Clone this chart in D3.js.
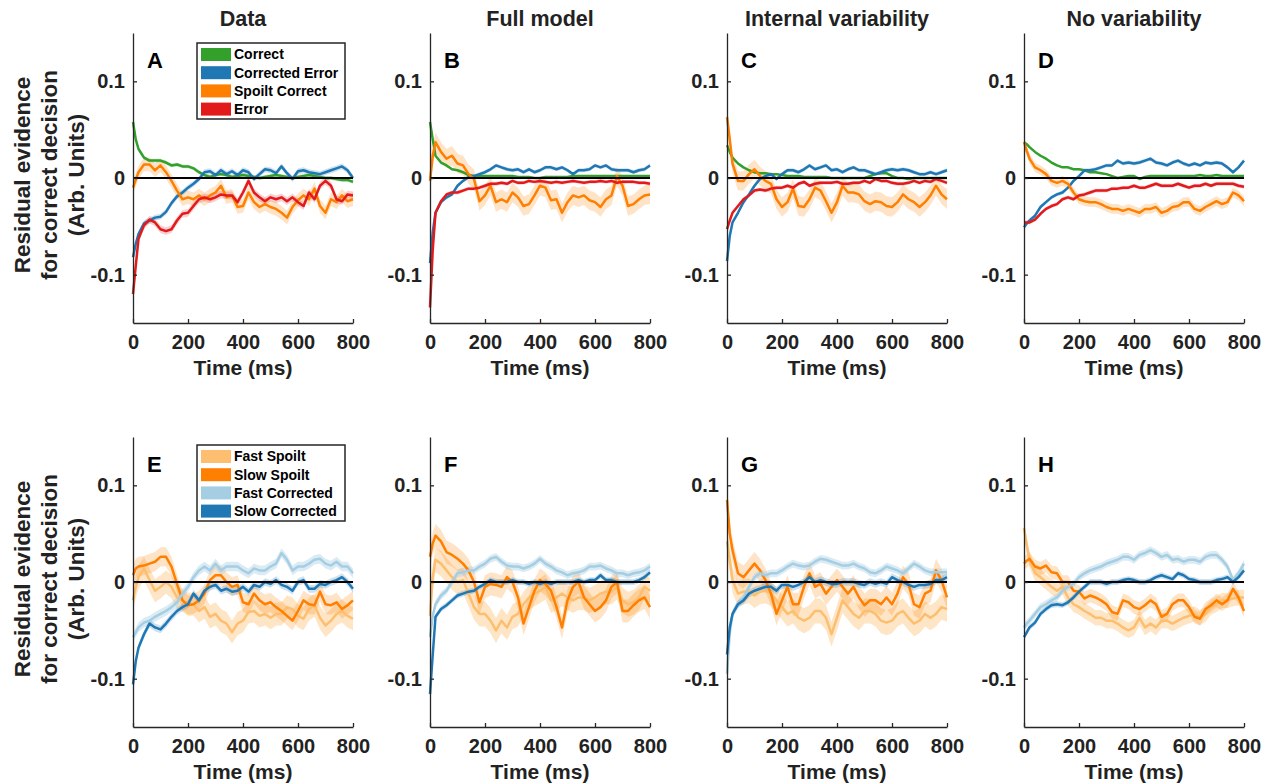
<!DOCTYPE html>
<html>
<head>
<meta charset="utf-8">
<script src="https://cdn.jsdelivr.net/npm/d3@7"></script>
<style>
  body { margin: 0; background: #fff; }
  svg text { font-family: "Liberation Sans", Arial, Helvetica, sans-serif; font-weight: bold; fill: #222; }
</style>
</head>
<body>
<svg id="chart" width="1277" height="784"></svg>
<script>
// time axis (ms)
const timeMs = [0,10,20,40,60,80,100,120,140,160,180,200,220,240,260,280,300,320,340,360,380,400,420,440,460,480,500,520,540,560,580,600,620,640,660,680,700,720,740,760,780,800];

const columnTitles = ["Data", "Full model", "Internal variability", "No variability"];
const topLetters = ["A", "B", "C", "D"];
const bottomLetters = ["E", "F", "G", "H"];
const outcomeLabels = ["Correct", "Corrected Error", "Spoilt Correct", "Error"];
const speedLabels = ["Fast Spoilt", "Slow Spoilt", "Fast Corrected", "Slow Corrected"];
const xTicks = [0, 200, 400, 600, 800];
const yTicks = [-0.1, 0, 0.1];

// ---- top row: outcome types ----
const correct_A = [0.058,0.040,0.030,0.021,0.018,0.018,0.018,0.016,0.013,0.014,
  0.012,0.012,0.010,0.006,0.003,0.001,0.003,0.004,0.003,0.001,
  0.002,0.003,0.002,0.001,0.000,0.001,0.002,0.003,0.002,0.001,
  0.000,0.001,0.002,0.003,0.002,0.001,0.000,0.000,-0.001,-0.002,
  -0.002,-0.004];
const correctedError_A = [-0.082,-0.068,-0.058,-0.047,-0.044,-0.041,-0.040,-0.035,-0.026,-0.019,
  -0.015,-0.010,-0.006,-0.001,0.006,0.007,0.003,0.008,0.004,0.007,
  0.003,0.008,0.006,-0.001,0.004,0.009,0.008,0.005,0.012,0.005,
  -0.001,0.007,0.008,0.006,0.005,0.004,0.006,0.008,0.010,0.012,
  0.008,0.000];
const spoiltCorrect_A = [-0.010,-0.002,0.006,0.014,0.014,0.008,0.013,0.006,-0.003,-0.013,
  -0.022,-0.020,-0.022,-0.018,-0.022,-0.018,-0.015,-0.008,-0.020,-0.018,
  -0.030,-0.029,-0.015,-0.025,-0.030,-0.027,-0.030,-0.032,-0.036,-0.041,
  -0.030,-0.023,-0.018,-0.022,-0.011,-0.029,-0.036,-0.022,-0.025,-0.018,
  -0.024,-0.022];
const error_A = [-0.120,-0.091,-0.063,-0.049,-0.043,-0.046,-0.053,-0.055,-0.053,-0.044,
  -0.037,-0.036,-0.029,-0.022,-0.020,-0.022,-0.020,-0.017,-0.018,-0.018,
  -0.025,-0.015,-0.003,-0.015,-0.020,-0.024,-0.020,-0.022,-0.020,-0.024,
  -0.020,-0.025,-0.029,-0.015,-0.022,-0.008,-0.003,-0.008,-0.022,-0.024,
  -0.017,-0.018];

const correct_B = [0.058,0.040,0.023,0.016,0.013,0.009,0.008,0.006,0.003,0.002,
  0.002,0.002,0.002,0.002,0.002,0.002,0.002,0.001,0.001,0.001,
  0.000,0.000,0.001,0.001,0.001,0.001,0.001,0.002,0.002,0.002,
  0.002,0.002,0.002,0.002,0.002,0.002,0.002,0.002,0.002,0.002,
  0.002,0.002];
const correctedError_B = [-0.088,-0.056,-0.036,-0.025,-0.020,-0.017,-0.008,-0.003,0.001,0.002,
  0.004,0.006,0.009,0.013,0.011,0.009,0.008,0.009,0.006,0.009,
  0.006,0.008,0.011,0.011,0.009,0.011,0.008,0.004,0.008,0.008,
  0.009,0.013,0.011,0.013,0.009,0.008,0.008,0.008,0.006,0.008,
  0.009,0.013];
const spoiltCorrect_B = [-0.003,0.023,0.037,0.027,0.020,0.023,0.015,0.013,0.004,-0.001,
  -0.024,-0.018,-0.008,-0.025,-0.022,-0.025,-0.015,-0.020,-0.029,-0.027,
  -0.018,-0.008,-0.010,-0.023,-0.022,-0.036,-0.025,-0.018,-0.020,-0.018,
  -0.023,-0.025,-0.030,-0.022,-0.018,0.002,-0.008,-0.029,-0.027,-0.022,
  -0.018,-0.017];
const error_B = [-0.134,-0.074,-0.036,-0.024,-0.017,-0.015,-0.015,-0.013,-0.011,-0.011,
  -0.010,-0.008,-0.006,-0.006,-0.005,-0.006,-0.003,-0.005,-0.005,-0.003,
  -0.004,-0.003,-0.004,-0.005,-0.004,-0.005,-0.004,-0.003,-0.004,-0.005,
  -0.004,-0.004,-0.003,-0.004,-0.003,-0.005,-0.004,-0.004,-0.004,-0.005,
  -0.005,-0.006];

const correct_C = [0.034,0.027,0.021,0.015,0.011,0.008,0.006,0.005,0.005,0.004,
  0.004,0.003,0.002,0.002,0.002,0.001,0.001,0.001,0.001,0.001,
  0.000,0.000,0.000,0.000,0.000,0.000,0.000,0.002,0.004,0.005,
  0.005,0.002,0.000,0.000,-0.001,0.000,0.000,0.000,0.000,0.000,
  0.000,0.000];
const correctedError_C = [-0.086,-0.060,-0.046,-0.036,-0.025,-0.017,-0.008,-0.001,0.002,0.004,
  -0.001,0.004,0.008,0.008,0.006,0.009,0.013,0.009,0.011,0.013,
  0.008,0.009,0.006,0.009,0.011,0.008,0.008,0.006,0.004,0.006,
  0.008,0.009,0.008,0.009,0.008,0.006,0.004,0.004,0.006,0.004,
  0.006,0.008];
const spoiltCorrect_C = [0.063,0.040,0.015,-0.003,-0.003,0.004,0.009,0.002,-0.003,-0.006,
  -0.022,-0.030,-0.025,-0.011,-0.029,-0.030,-0.022,-0.010,-0.013,-0.024,
  -0.036,-0.025,-0.008,-0.015,-0.015,-0.017,-0.024,-0.027,-0.024,-0.025,
  -0.029,-0.030,-0.025,-0.017,-0.022,-0.025,-0.030,-0.025,-0.018,-0.008,
  -0.017,-0.022];
const error_C = [-0.053,-0.044,-0.036,-0.029,-0.022,-0.018,-0.013,-0.012,-0.013,-0.011,
  -0.010,-0.010,-0.008,-0.010,-0.006,-0.004,-0.008,-0.006,-0.005,-0.005,
  -0.005,-0.004,-0.006,-0.006,-0.005,-0.005,-0.003,-0.005,-0.001,-0.003,
  -0.003,-0.005,-0.006,-0.006,-0.005,-0.003,-0.005,-0.003,-0.004,-0.001,
  -0.003,-0.005];

const correct_D = [0.037,0.035,0.032,0.027,0.023,0.020,0.016,0.013,0.011,0.011,
  0.009,0.009,0.008,0.006,0.006,0.005,0.004,0.002,0.000,0.001,
  0.002,0.002,-0.001,0.001,0.002,0.002,0.002,0.002,0.002,0.002,
  0.002,0.002,0.002,0.003,0.002,0.002,0.003,0.002,0.002,0.002,
  0.002,0.002];
const correctedError_D = [-0.051,-0.047,-0.044,-0.039,-0.030,-0.025,-0.020,-0.017,-0.015,-0.010,
  -0.003,0.002,0.008,0.008,0.009,0.011,0.013,0.013,0.018,0.015,
  0.016,0.015,0.016,0.018,0.020,0.016,0.015,0.013,0.016,0.018,
  0.015,0.013,0.015,0.013,0.016,0.015,0.016,0.015,0.011,0.006,
  0.011,0.018];
const spoiltCorrect_D = [0.037,0.028,0.020,0.011,0.008,0.004,-0.003,-0.005,-0.003,-0.006,
  -0.015,-0.022,-0.024,-0.025,-0.025,-0.027,-0.030,-0.032,-0.032,-0.034,
  -0.032,-0.034,-0.036,-0.032,-0.032,-0.030,-0.036,-0.034,-0.030,-0.029,
  -0.025,-0.025,-0.032,-0.034,-0.030,-0.027,-0.024,-0.027,-0.025,-0.015,
  -0.018,-0.024];
const error_D = [-0.046,-0.046,-0.046,-0.043,-0.037,-0.032,-0.029,-0.027,-0.022,-0.020,
  -0.022,-0.018,-0.017,-0.015,-0.013,-0.013,-0.013,-0.011,-0.011,-0.010,
  -0.010,-0.008,-0.010,-0.010,-0.008,-0.006,-0.008,-0.008,-0.008,-0.006,
  -0.008,-0.010,-0.008,-0.008,-0.006,-0.008,-0.006,-0.006,-0.006,-0.006,
  -0.008,-0.009];

// ---- bottom row: fast / slow ----
const fastSpoilt_E = [-0.019,-0.005,0.005,0.014,0.002,-0.009,-0.005,0.000,-0.005,-0.016,
  -0.019,-0.023,-0.023,-0.030,-0.026,-0.036,-0.033,-0.040,-0.043,-0.052,
  -0.043,-0.040,-0.031,-0.030,-0.035,-0.033,-0.037,-0.033,-0.033,-0.026,
  -0.028,-0.035,-0.038,-0.028,-0.024,-0.037,-0.045,-0.040,-0.033,-0.030,
  -0.035,-0.038];
const slowSpoilt_E = [0.007,0.014,0.016,0.017,0.019,0.021,0.026,0.026,0.016,-0.002,
  -0.019,-0.024,-0.023,-0.019,-0.012,0.002,0.007,0.007,0.000,-0.005,
  -0.003,-0.021,-0.023,-0.012,-0.019,-0.023,-0.021,-0.026,-0.030,-0.035,
  -0.040,-0.030,-0.019,-0.023,-0.024,-0.010,-0.023,-0.024,-0.021,-0.028,
  -0.024,-0.019];
const fastCorrected_E = [-0.057,-0.052,-0.047,-0.042,-0.040,-0.036,-0.033,-0.030,-0.026,-0.021,
  -0.012,-0.005,0.005,0.012,0.016,0.012,0.019,0.012,0.016,0.016,
  0.016,0.012,0.009,0.014,0.012,0.012,0.016,0.019,0.030,0.023,
  0.012,0.016,0.016,0.019,0.023,0.024,0.019,0.017,0.021,0.016,
  0.016,0.009];
const slowCorrected_E = [-0.106,-0.082,-0.068,-0.054,-0.043,-0.047,-0.049,-0.043,-0.036,-0.030,
  -0.026,-0.023,-0.012,-0.019,-0.009,-0.005,-0.003,-0.009,-0.007,-0.010,
  -0.009,-0.005,-0.010,-0.003,-0.005,0.000,-0.002,0.002,-0.003,-0.005,
  -0.009,0.000,0.002,-0.007,-0.007,-0.002,-0.003,0.000,0.002,0.005,
  0.000,-0.007];

const fastSpoilt_F = [-0.035,0.005,0.023,0.019,0.012,0.005,0.000,0.002,-0.012,-0.026,
  -0.033,-0.033,-0.040,-0.050,-0.040,-0.047,-0.036,-0.033,-0.023,-0.016,
  -0.012,-0.009,-0.005,-0.019,-0.016,-0.012,-0.016,-0.019,-0.016,-0.016,
  -0.019,-0.016,-0.012,-0.010,-0.010,-0.005,-0.019,-0.023,-0.021,-0.016,
  -0.005,-0.009];
const slowSpoilt_F = [0.026,0.040,0.048,0.042,0.031,0.028,0.024,0.019,0.012,0.000,
  -0.021,-0.005,-0.002,-0.003,-0.005,0.005,0.000,-0.016,-0.043,-0.026,
  -0.009,0.002,-0.002,-0.009,-0.026,-0.047,-0.019,-0.005,0.000,-0.016,
  -0.023,-0.030,-0.026,-0.019,-0.005,0.000,-0.030,-0.030,-0.024,-0.019,
  -0.016,-0.026];
const fastCorrected_F = [-0.057,-0.035,-0.023,-0.014,-0.009,0.000,0.009,0.010,0.012,0.012,
  0.016,0.019,0.024,0.026,0.021,0.017,0.016,0.016,0.014,0.016,
  0.019,0.024,0.019,0.016,0.012,0.010,0.007,0.009,0.010,0.012,
  0.016,0.016,0.017,0.014,0.012,0.009,0.009,0.007,0.009,0.010,
  0.012,0.016];
const slowCorrected_F = [-0.116,-0.075,-0.036,-0.028,-0.024,-0.019,-0.014,-0.012,-0.010,-0.009,
  -0.005,-0.002,0.002,0.000,0.000,0.000,0.002,0.000,0.000,-0.002,
  0.000,-0.002,0.000,-0.002,0.000,0.000,0.000,0.000,0.002,0.000,
  0.002,0.002,0.007,0.002,0.002,0.000,0.000,0.000,0.000,0.002,
  0.005,0.010];

const fastSpoilt_G = [0.042,0.023,0.002,-0.012,-0.010,-0.009,-0.014,-0.010,-0.009,-0.012,
  -0.019,-0.026,-0.033,-0.030,-0.037,-0.040,-0.037,-0.030,-0.030,-0.037,
  -0.054,-0.037,-0.019,-0.026,-0.033,-0.037,-0.030,-0.030,-0.033,-0.040,
  -0.042,-0.040,-0.033,-0.030,-0.037,-0.043,-0.040,-0.033,-0.037,-0.033,
  -0.026,-0.028];
const slowSpoilt_G = [0.085,0.050,0.033,0.009,0.005,0.012,0.019,0.012,0.002,-0.012,
  -0.033,-0.019,-0.005,-0.023,-0.023,-0.005,0.009,-0.005,-0.002,-0.012,
  -0.005,0.002,-0.005,-0.012,-0.005,-0.016,-0.024,-0.019,-0.019,-0.023,
  -0.016,-0.023,-0.012,0.005,-0.002,-0.023,-0.026,-0.012,-0.009,0.012,
  0.002,-0.016];
const fastCorrected_G = [-0.095,-0.053,-0.033,-0.023,-0.016,-0.005,0.005,0.009,0.007,0.009,
  0.009,0.012,0.016,0.019,0.017,0.016,0.017,0.021,0.024,0.023,
  0.021,0.019,0.017,0.017,0.019,0.016,0.014,0.010,0.009,0.012,
  0.016,0.014,0.012,0.009,0.014,0.019,0.016,0.012,0.010,0.010,
  0.010,0.010];
const slowCorrected_G = [-0.075,-0.047,-0.033,-0.023,-0.019,-0.012,-0.009,-0.007,-0.005,-0.005,
  -0.009,-0.003,-0.003,-0.005,-0.003,0.000,0.005,0.000,0.002,0.000,
  -0.002,-0.002,0.000,0.000,0.000,-0.002,-0.003,0.000,-0.002,0.000,
  -0.002,0.005,0.002,0.000,-0.003,-0.005,-0.003,-0.003,-0.002,0.002,
  0.002,0.005];

const fastSpoilt_H = [0.056,0.038,0.023,0.009,0.005,0.000,-0.005,-0.009,-0.005,-0.016,
  -0.023,-0.026,-0.030,-0.033,-0.037,-0.037,-0.040,-0.040,-0.043,-0.047,
  -0.050,-0.047,-0.037,-0.047,-0.043,-0.047,-0.040,-0.040,-0.043,-0.040,
  -0.037,-0.035,-0.033,-0.037,-0.033,-0.026,-0.023,-0.019,-0.019,-0.017,
  -0.016,-0.016];
const slowSpoilt_H = [0.019,0.022,0.024,0.016,0.014,0.017,0.010,0.009,0.000,0.000,
  -0.009,-0.010,-0.017,-0.014,-0.016,-0.019,-0.023,-0.031,-0.033,-0.019,
  -0.021,-0.026,-0.028,-0.024,-0.019,-0.023,-0.036,-0.033,-0.023,-0.019,
  -0.019,-0.026,-0.036,-0.038,-0.028,-0.024,-0.019,-0.023,-0.019,-0.007,
  -0.016,-0.030];
const fastCorrected_H = [-0.047,-0.043,-0.040,-0.033,-0.026,-0.023,-0.019,-0.016,-0.009,-0.005,
  -0.002,0.005,0.009,0.012,0.014,0.016,0.019,0.021,0.023,0.026,
  0.026,0.023,0.028,0.030,0.033,0.030,0.026,0.028,0.023,0.024,
  0.021,0.023,0.023,0.021,0.026,0.028,0.028,0.023,0.016,0.002,
  0.009,0.019];
const slowCorrected_H = [-0.057,-0.052,-0.047,-0.042,-0.033,-0.028,-0.024,-0.023,-0.024,-0.021,
  -0.016,-0.010,-0.005,0.000,0.000,0.000,-0.002,0.000,0.000,0.002,
  0.003,0.002,0.000,0.000,0.002,0.005,0.007,0.005,0.003,0.009,
  0.007,0.003,0.002,0.000,0.000,0.000,0.002,0.003,0.005,0.000,
  0.005,0.012];

// standard error (half-width of shaded band) per series, in legend order
const sem_A = [0.002, 0.003, 0.007, 0.004];
const sem_B = [0.001, 0.002, 0.010, 0.002];
const sem_C = [0.001, 0.002, 0.010, 0.002];
const sem_D = [0.001, 0.002, 0.005, 0.002];
const sem_E = [0.012, 0.010, 0.005, 0.004];
const sem_F = [0.013, 0.012, 0.004, 0.003];
const sem_G = [0.013, 0.012, 0.004, 0.004];
const sem_H = [0.008, 0.007, 0.004, 0.003];

// ---- styling ----
const outcomeColors = ["#33a02c", "#1f78b4", "#ff7f00", "#e31a1c"];
const outcomeBand = [0.25, 0.22, 0.22, 0.2];
const speedColors = ["#fdbf6f", "#ff7f00", "#a6cee3", "#1f78b4"];
const speedBand = [0.4, 0.22, 0.4, 0.22];

const svg = d3.select("#chart");
const colX = [133, 430, 727, 1024];
const rowTop = [33, 437];
const plotW = 220, plotH = 290;

const rows = [
  { top: rowTop[0], letters: topLetters, labels: outcomeLabels, colors: outcomeColors, band: outcomeBand,
    panels: [[correct_A, correctedError_A, spoiltCorrect_A, error_A],
             [correct_B, correctedError_B, spoiltCorrect_B, error_B],
             [correct_C, correctedError_C, spoiltCorrect_C, error_C],
             [correct_D, correctedError_D, spoiltCorrect_D, error_D]],
    sems: [sem_A, sem_B, sem_C, sem_D], legendY: 10 },
  { top: rowTop[1], letters: bottomLetters, labels: speedLabels, colors: speedColors, band: speedBand,
    panels: [[fastSpoilt_E, slowSpoilt_E, fastCorrected_E, slowCorrected_E],
             [fastSpoilt_F, slowSpoilt_F, fastCorrected_F, slowCorrected_F],
             [fastSpoilt_G, slowSpoilt_G, fastCorrected_G, slowCorrected_G],
             [fastSpoilt_H, slowSpoilt_H, fastCorrected_H, slowCorrected_H]],
    sems: [sem_E, sem_F, sem_G, sem_H], legendY: 8 }
];

// column titles
columnTitles.forEach((t, i) => {
  svg.append("text")
    .attr("x", colX[i] + plotW / 2)
    .attr("y", 26)
    .attr("text-anchor", "middle")
    .style("font-size", "21.5px")
    .text(t);
});

rows.forEach((row, r) => {
  row.panels.forEach((series, c) => {
    const g = svg.append("g").attr("transform", `translate(${colX[c]},${row.top})`);
    const x = d3.scaleLinear().domain([0, 800]).range([0, plotW]);
    const y = d3.scaleLinear().domain([-0.15, 0.15]).range([plotH, 0]);

    const area = (sem) => d3.area()
      .x((d, i) => x(timeMs[i]))
      .y0(d => y(d - sem))
      .y1(d => y(d + sem));
    const line = d3.line()
      .x((d, i) => x(timeMs[i]))
      .y(d => y(d));

    // shaded error bands
    series.forEach((s, k) => {
      g.append("path")
        .attr("d", area(row.sems[c][k])(s))
        .attr("fill", row.colors[k])
        .attr("fill-opacity", row.band[k])
        .attr("stroke", "none");
    });
    // mean lines
    series.forEach((s, k) => {
      g.append("path")
        .attr("d", line(s))
        .attr("fill", "none")
        .attr("stroke", row.colors[k])
        .attr("stroke-width", 2.5)
        .attr("stroke-linejoin", "round");
    });
    // zero line
    g.append("line")
      .attr("x1", x(0)).attr("x2", x(800))
      .attr("y1", y(0)).attr("y2", y(0))
      .attr("stroke", "#000").attr("stroke-width", 2);

    // axes, inward ticks
    const xAxis = g.append("g")
      .attr("transform", `translate(0,${plotH})`)
      .call(d3.axisBottom(x).tickValues(xTicks).tickSize(-4).tickSizeOuter(0).tickPadding(12)
        .tickFormat(d3.format("d")));
    const yAxis = g.append("g")
      .call(d3.axisLeft(y).tickValues(yTicks).tickSize(-4).tickSizeOuter(0).tickPadding(8)
        .tickFormat(d => d === 0 ? "0" : String(d)));
    [xAxis, yAxis].forEach(a => {
      a.select(".domain").attr("stroke", "#262626").attr("stroke-width", 1.3);
      a.selectAll(".tick line").attr("stroke", "#262626").attr("stroke-width", 1.3);
      a.selectAll(".tick text").attr("fill", "#222")
        .style("font-size", "20px").style("font-family", "'Liberation Sans', Arial, sans-serif")
        .style("font-weight", "bold");
    });

    g.append("text")
      .attr("x", plotW / 2)
      .attr("y", plotH + 52)
      .attr("text-anchor", "middle")
      .style("font-size", "21px")
      .text("Time (ms)");

    // panel letter
    g.append("text")
      .attr("x", 14)
      .attr("y", 35)
      .style("font-size", "22px")
      .style("fill", "#000")
      .text(row.letters[c]);

    // legend in first column only
    if (c === 0) {
      const lg = g.append("g").attr("transform", `translate(64,${row.legendY})`);
      lg.append("rect")
        .attr("width", 148).attr("height", 76)
        .attr("fill", "#fff").attr("stroke", "#262626").attr("stroke-width", 1.5);
      row.labels.forEach((lab, k) => {
        const cy = 11.5 + k * 18.2;
        lg.append("rect")
          .attr("x", 4).attr("y", cy - 6.5)
          .attr("width", 30).attr("height", 13)
          .attr("fill", row.colors[k]);
        lg.append("text")
          .attr("x", 37).attr("y", cy)
          .attr("dy", "0.35em")
          .style("font-size", "14px")
          .style("fill", "#000")
          .text(lab);
      });

      // y-axis label
      const yl = svg.append("g")
        .attr("transform", `translate(0,${row.top + plotH / 2 - 3})`);
      ["Residual evidence", "for correct decision", "(Arb. Units)"].forEach((t, k) => {
        yl.append("text")
          .attr("transform", `translate(${30 + k * 27},0) rotate(-90)`)
          .attr("text-anchor", "middle")
          .style("font-size", "22.5px")
          .text(t);
      });
    }
  });
});
</script>
</body>
</html>
